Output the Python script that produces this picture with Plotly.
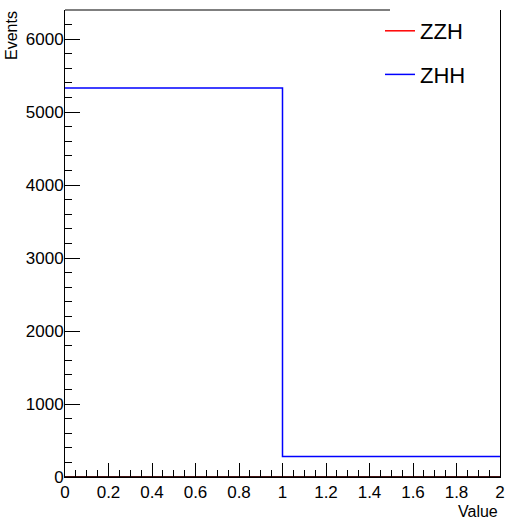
import plotly.graph_objects as go

# Data
bin_edges = [0, 1, 2]
zzh_values = [0, 0]
zhh_values = [5330, 280]
series_names = ["ZZH", "ZHH"]
x_tick_vals = [0, 0.2, 0.4, 0.6, 0.8, 1, 1.2, 1.4, 1.6, 1.8, 2]
y_tick_vals = [0, 1000, 2000, 3000, 4000, 5000, 6000]

W, H = 505, 519
ML, MR, MT, MB = 65, 5, 10, 42
PW, PH = W - ML - MR, H - MT - MB


# Helpers converting reference-picture pixel positions to paper coordinates
def px_x(p):
    return (p - ML) / PW


def px_y(p):
    return (H - MB - p) / PH


def step(vals):
    return list(vals) + [vals[-1]]


fig = go.Figure()
fig.add_trace(go.Scatter(x=bin_edges, y=step(zzh_values), mode="lines", line_shape="hv",
                         line=dict(color="#ff0000", width=1.5), name=series_names[0],
                         legendgroup="a"))
fig.add_trace(go.Scatter(x=bin_edges, y=step(zhh_values), mode="lines", line_shape="hv",
                         line=dict(color="#0000ff", width=1.5), name=series_names[1],
                         legendgroup="b"))

font_family = "Liberation Sans, Arial, Helvetica, sans-serif"

fig.update_layout(
    width=W, height=H,
    margin=dict(l=ML, r=MR, t=MT, b=MB, pad=0, autoexpand=False),
    paper_bgcolor="white", plot_bgcolor="white",
    font=dict(family=font_family, color="black", size=17),
    showlegend=True,
    legend=dict(x=px_x(380), y=px_y(10), xanchor="left", yanchor="top",
                bgcolor="rgba(0,0,0,0)", borderwidth=0, font=dict(size=22),
                traceorder="grouped", tracegroupgap=12, itemwidth=30),
    xaxis=dict(range=[0, 2], tickvals=x_tick_vals, ticks="inside", ticklen=14,
               tickwidth=1, tickcolor="black", showline=True, linecolor="black",
               linewidth=1, mirror=False, showgrid=False, zeroline=False,
               tickfont=dict(size=17), automargin=False, ticklabeloverflow="allow",
               minor=dict(ticks="inside", ticklen=7, dtick=0.05, tickcolor="black",
                          showgrid=False)),
    yaxis=dict(range=[0, 6400], tickvals=y_tick_vals, tickformat="d", ticks="inside",
               ticklen=15, tickwidth=1, tickcolor="black", showline=True,
               linecolor="black", linewidth=1, mirror=True, showgrid=False,
               zeroline=False, tickfont=dict(size=17), automargin=False,
               ticklabelstandoff=-3,
               minor=dict(ticks="inside", ticklen=7, dtick=200, tickcolor="black",
                          showgrid=False)),
    shapes=[
        # bottom frame drawn over the histograms (as the axis is in the original)
        dict(type="line", xref="paper", yref="paper", x0=0, x1=1, y0=0, y1=0,
             line=dict(color="black", width=1.5), layer="above"),
        # top frame, interrupted by the legend box
        dict(type="line", xref="paper", yref="paper", x0=0, x1=px_x(390), y0=1, y1=1,
             line=dict(color="black", width=1.2), layer="above"),
    ],
    annotations=[
        dict(text="Value", xref="paper", yref="paper", x=1, y=px_y(511),
             xanchor="right", yanchor="middle", showarrow=False,
             font=dict(size=16)),
        dict(text="Events", xref="paper", yref="paper", x=px_x(12), y=px_y(36),
             xanchor="center", yanchor="middle", textangle=-90, showarrow=False,
             font=dict(size=16)),
    ],
)

fig.write_html(
    "out.html",
    config={"displayModeBar": False},
    post_script="document.body.style.margin='0';document.body.style.overflow='hidden';",
)
